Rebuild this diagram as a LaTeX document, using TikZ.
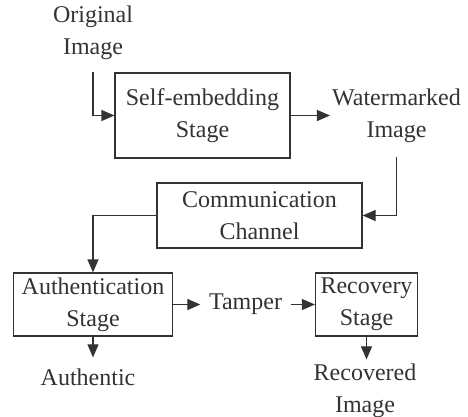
\documentclass[tikz,border=0pt]{standalone}
\usepackage{fontspec}
\setmainfont{Liberation Serif}
\usepackage{tikz}
\usetikzlibrary{calc}
\usetikzlibrary{arrows.meta}

\begin{document}
\begin{tikzpicture}[x=1pt, y=-1pt, font=\fontsize{24}{32}\selectfont,
			bloque/.style={draw=black!80, line width=1.2pt, align=center, inner sep=0pt, text=black!80},
			etiqueta/.style={align=center, inner sep=0pt, text=black!80},
			flecha/.style={draw=black!80, line width=1.2pt, -{Triangle[length=13pt, width=11pt]}}]
			\useasboundingbox (0,0) rectangle (468,416); % margenes
			\node [etiqueta] (original) at (93,33) {Original\\Image}; % entrada
			\node [bloque, minimum width=175pt, minimum height=85pt] (embed) at (202.5,115.5) {Self-embedding\\Stage};
			\node [etiqueta, inner sep=2pt] (marca) at (396.5,115.5) {Watermarked\\Image};
			\node [bloque, minimum width=205pt, minimum height=65pt] (canal) at (259.5,215.5) {Communication\\Channel};
			\node [bloque, minimum width=159pt, minimum height=63pt] (autent) at (93,304.5) {Authentication\\Stage};
			\node [etiqueta, inner xsep=8.5pt] (tamper) at (245.5,304.5) {Tamper};
			\node [bloque, minimum width=102pt, minimum height=63pt] (recup) at (366.5,304.5) {Recovery\\Stage};
			\node [etiqueta] (autentica) at (88,377) {Authentic}; % salida 1
			\node [etiqueta] (recuperada) at (365,390.5) {Recovered\\Image}; % salida 2
			\draw [flecha] ([yshift=-12pt]original.south) |- (embed.west);
			\draw [flecha] (embed.east) -- (marca.west);
			\draw [flecha] ([yshift=-12pt]marca.south) |- (canal.east); % hacia el canal
			\draw [flecha] (canal.west) -| (autent.north);
			\draw [flecha] (autent.east) -- (tamper.west);
			\draw [flecha] (tamper.east) -- (recup.west);
			\draw [flecha, shorten >=11pt] (autent.south) -- (autent.south |- autentica.north);
			\draw [flecha, shorten >=4pt] (recup.south) -- (recup.south |- recuperada.north);
		\end{tikzpicture}
\end{document}
